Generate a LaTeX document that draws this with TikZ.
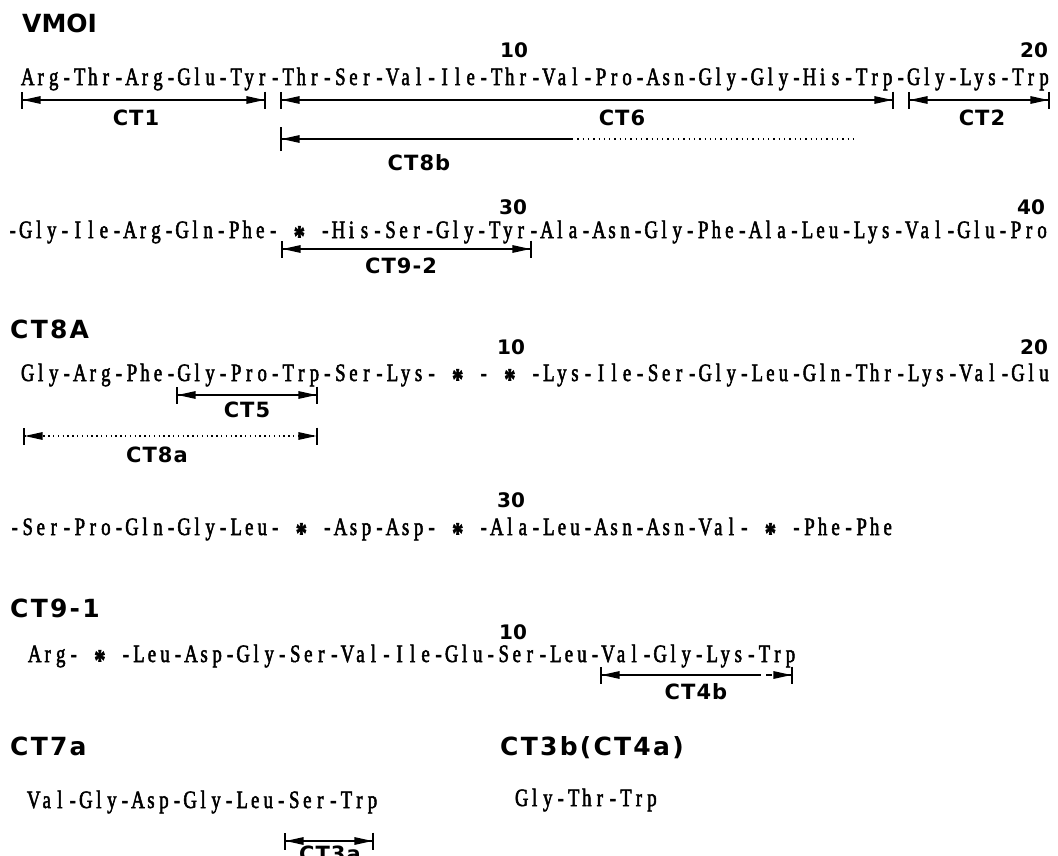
\documentclass[tikz,border=0pt]{standalone}
\usepackage{fontspec}
\usetikzlibrary{arrows.meta}
\newfontfamily\seqfont[FakeStretch=0.75,FakeBold=2]{Liberation Serif}
\newfontfamily\ttlfont[LetterSpace=9]{DejaVu Sans}
\newfontfamily\tagfont[LetterSpace=5]{DejaVu Sans}
\newfontfamily\numfont{DejaVu Sans}
% one fixed-width cell per character (typewriter-like spacing)
\def\monoloop#1{\ifx#1\relax\else\makebox[13.03pt]{#1}\expandafter\monoloop\fi}
\newcommand\mono[1]{\monoloop#1\relax}
\newcommand\stx{\raisebox{-8pt}{\fontsize{30pt}{30pt}\selectfont\bfseries *}}
\tikzset{
  seq/.style={anchor=base west, inner sep=0pt, font=\seqfont\fontsize{25pt}{25pt}\selectfont},
  ttl/.style={anchor=base west, inner sep=0pt, font=\ttlfont\bfseries\fontsize{25pt}{25pt}\selectfont},
  vmo/.style={anchor=base west, inner sep=0pt, font=\numfont\bfseries\fontsize{25pt}{25pt}\selectfont},
  tag/.style={anchor=base, inner sep=0pt, font=\tagfont\bfseries\fontsize{21pt}{21pt}\selectfont},
  num/.style={anchor=base, inner sep=0pt, font=\numfont\bfseries\fontsize{20pt}{20pt}\selectfont},
  rng/.style={line width=1.4pt},
  both/.style={rng, {Bar[width=17pt,line width=1.6pt]Triangle[length=18pt,width=7.5pt]}-{Triangle[length=18pt,width=7.5pt]Bar[width=17pt,line width=1.6pt]}},
  lefttip/.style={rng, {Bar[width=17pt,line width=1.6pt]Triangle[length=18pt,width=7.5pt]}-},
  righttip/.style={rng, -{Triangle[length=18pt,width=7.5pt]Bar[width=17pt,line width=1.6pt]}},
  dotline/.style={rng, dash pattern=on 1.3pt off 4pt},
}
\begin{document}
\begin{tikzpicture}[x=1pt,y=-1pt]
\fill[white] (0,0) rectangle (1058,855);
\useasboundingbox (0,0) rectangle (1058,855);

% ---------------- VMOI ----------------
\node[vmo] (tVMOI) at (22,32) {VMOI};
\node[num] (n1a) at (514,57) {10};
\node[num] (n1b) at (1034,57) {20};
\node[seq] (r1) at (21,85) {\mono{Arg-Thr-Arg-Glu-Tyr-Thr-Ser-Val-Ile-Thr-Val-Pro-Asn-Gly-Gly-His-Trp-Gly-Lys-Trp}};

\coordinate (ct1L) at (21,100);  \coordinate (ct1R) at (266,100);
\coordinate (ct6L) at (280,100); \coordinate (ct6R) at (894,100);
\coordinate (ct2L) at (908,100); \coordinate (ct2R) at (1050,100);
\draw[both] (ct1L) -- (ct1R);
\draw[both] (ct6L) -- (ct6R);
\draw[both] (ct2L) -- (ct2R);
\node[tag] (lCT1) at (136,125) {CT1};
\node[tag] (lCT6) at (622,125) {CT6};
\node[tag] (lCT2) at (982,125) {CT2};

\coordinate (ct8bL) at (280,139); \coordinate (ct8bM) at (572,139); \coordinate (ct8bR) at (853,139);
\draw[rng, {Bar[width=24pt,line width=1.6pt]Triangle[length=18pt,width=7.5pt]}-] (ct8bL) -- (ct8bM);
\draw[dotline] (ct8bM) -- (ct8bR);
\node[tag] (lCT8b) at (419,170) {CT8b};

\node[num] (n2a) at (513,214) {30};
\node[num] (n2b) at (1031,214) {40};
\node[seq] (r2) at (6,238) {\mono{-Gly-Ile-Arg-Gln-Phe-~\stx~-His-Ser-Gly-Tyr-Ala-Asn-Gly-Phe-Ala-Leu-Lys-Val-Glu-Pro}};
\coordinate (ct92L) at (281,249); \coordinate (ct92R) at (532,249);
\draw[both] (ct92L) -- (ct92R);
\node[tag] (lCT92) at (401,273) {CT9-2};

% ---------------- CT8A ----------------
\node[ttl] (tCT8A) at (10,338) {CT8A};
\node[num] (n3a) at (511,354) {10};
\node[num] (n3b) at (1034,354) {20};
\node[seq] (r3) at (21,381) {\mono{Gly-Arg-Phe-Gly-Pro-Trp-Ser-Lys-~\stx~-~\stx~-Lys-Ile-Ser-Gly-Leu-Gln-Thr-Lys-Val-Glu}};
\coordinate (ct5L) at (176,395); \coordinate (ct5R) at (318,395);
\draw[both] (ct5L) -- (ct5R);
\node[tag] (lCT5) at (247,417) {CT5};
\coordinate (ct8aL) at (23,436); \coordinate (ct8aR) at (318,436);
\draw[both, dash pattern=on 1.3pt off 3.5pt] (ct8aL) -- (ct8aR);
\node[tag] (lCT8a) at (157,462) {CT8a};

\node[num] (n4a) at (511,507) {30};
\node[seq] (r4) at (8,535) {\mono{-Ser-Pro-Gln-Gly-Leu-~\stx~-Asp-Asp-~\stx~-Ala-Leu-Asn-Asn-Val-~\stx~-Phe-Phe}};

% ---------------- CT9-1 ----------------
\node[ttl] (tCT91) at (10,617) {CT9-1};
\node[num] (n5a) at (513,639) {10};
\node[seq] (r5) at (28,662) {\mono{Arg-~\stx~-Leu-Asp-Gly-Ser-Val-Ile-Glu-Ser-Leu-Val-Gly-Lys-Trp}};
\coordinate (ct4bL) at (600,675); \coordinate (ct4bM) at (755,675); \coordinate (ct4bR) at (793,675);
\draw[lefttip] (ct4bL) -- (ct4bM);
\draw[righttip, dash pattern=on 6pt off 5pt] (ct4bM) -- (ct4bR);
\node[tag] (lCT4b) at (696,699) {CT4b};

% ---------------- CT7a / CT3b ----------------
\node[ttl] (tCT7a) at (10,755) {CT7a};
\node[ttl] (tCT3b) at (500,755) {CT3b(CT4a)};
\node[seq] (r6) at (27,808) {\mono{Val-Gly-Asp-Gly-Leu-Ser-Trp}};
\node[seq] (r7) at (515,806) {\mono{Gly-Thr-Trp}};
\coordinate (ct3aL) at (284,841); \coordinate (ct3aR) at (374,841);
\draw[both] (ct3aL) -- (ct3aR);
\node[tag] (lCT3a) at (330,861) {CT3a};
\end{tikzpicture}
\end{document}
